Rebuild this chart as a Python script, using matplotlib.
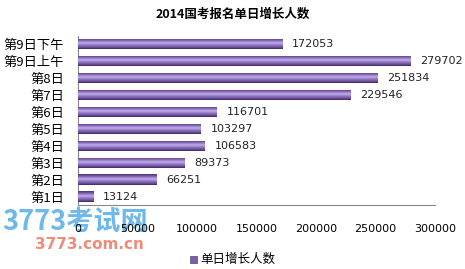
import matplotlib
matplotlib.use("Agg")
import matplotlib.pyplot as plt
import numpy as np
from matplotlib.colors import LinearSegmentedColormap

plt.rcParams['font.family'] = ['Noto Sans CJK SC', 'DejaVu Sans']

categories = ["第1日", "第2日", "第3日", "第4日", "第5日", "第6日", "第7日", "第8日", "第9日上午", "第9日下午"]
values = [13124, 66251, 89373, 106583, 103297, 116701, 229546, 251834, 279702, 172053]
xticks = [0, 50000, 100000, 150000, 200000, 250000, 300000]
title = "2014国考报名单日增长人数"
legend_label = "单日增长人数"

fig = plt.figure(figsize=(4.65, 2.69), dpi=100)

# watermark (behind the chart)
fig.text(0.004, 0.175, "3773考试网", ha="left", va="center", fontsize=19.5, fontstyle="italic",
         fontweight="bold", color="#4aa8e8", alpha=0.8, zorder=-1)
fig.text(0.075, 0.09, "3773.com.cn", ha="left", va="center", fontsize=11, fontweight="bold",
         color="#f08a7a", family="DejaVu Sans", zorder=-1)

ax = fig.add_axes([0.168, 0.238, 0.767, 0.63])
ax.patch.set_alpha(0)

y = np.arange(len(categories))
h = 0.6
bars = ax.barh(y, values, height=h, color="#8064a2", edgecolor="none", zorder=2)

cmap = LinearSegmentedColormap.from_list(
    "cyl", [(0.0, "#4a3072"), (0.25, "#8c70bf"), (0.45, "#c2aee8"),
            (0.65, "#8f74c2"), (0.85, "#6b4f99"), (1.0, "#3e2663")])
grad = np.linspace(0, 1, 64).reshape(-1, 1)
for b in bars:
    x0, y0 = b.get_x(), b.get_y()
    w, hh = b.get_width(), b.get_height()
    im = ax.imshow(grad, aspect="auto", cmap=cmap, origin="upper",
                   extent=[x0, x0 + w, y0, y0 + hh], zorder=3)
    im.set_clip_path(b)
    b.set_alpha(0)

for yi, v in zip(y, values):
    ax.text(v + 8000, yi, str(v), va="center", ha="left", fontsize=8,
            family="DejaVu Sans", color="#222222")

ax.set_xlim(0, 300000)
ax.set_ylim(-0.5, len(categories) - 0.5)
ax.set_yticks(y)
ax.set_yticklabels(categories, fontsize=9.5)
ax.set_xticks(xticks)
ax.set_xticklabels([str(t) for t in xticks], fontsize=8, family="DejaVu Sans")
ax.tick_params(axis="y", length=0, pad=10)
ax.tick_params(axis="x", length=0, pad=14)
for s in ["top", "right"]:
    ax.spines[s].set_visible(False)
ax.spines["left"].set_color("#888888")
ax.spines["bottom"].set_color("#888888")
ax.spines["left"].set_linewidth(0.8)
ax.spines["bottom"].set_linewidth(0.8)

fig.text(0.5, 0.945, title, ha="center", va="center", fontsize=9, fontweight="bold")

# legend
fig.patches.append(plt.Rectangle((0.408, 0.022), 0.016, 0.028, transform=fig.transFigure,
                                 facecolor="#7a5ea6", edgecolor="#5a4080", lw=0.5))
fig.text(0.43, 0.036, legend_label, ha="left", va="center", fontsize=9)

fig.savefig("out.png", dpi=100)
